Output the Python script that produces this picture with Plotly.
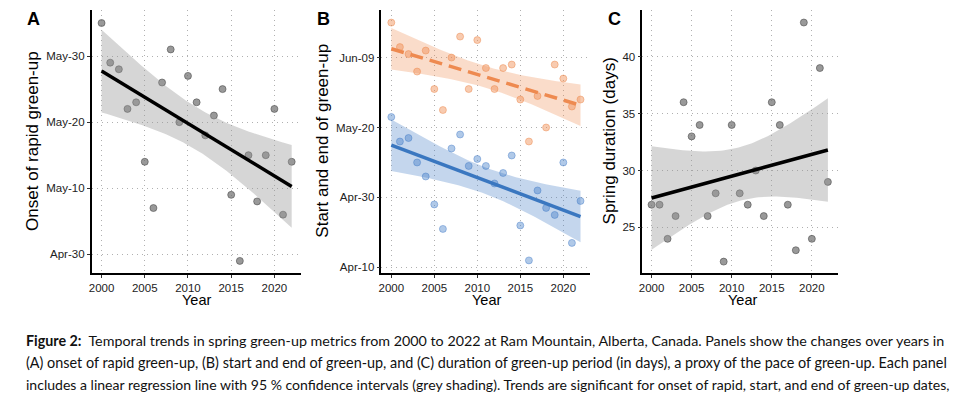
import numpy as np
import plotly.graph_objects as go

# ---------------- data ----------------
years = list(range(2000, 2023))
# day of year (non-leap): Apr-10=100, Apr-30=120, May-10=130, May-20=140, May-30=150, Jun-09=160
onset_rapid = [155, 149, 148, 142, 143, 134, 127, 146, 151, 140, 147, 143, 138, 141, 145, 129, 119, 135, 128, 135, 142, 126, 134]
start_greenup = [143, 136, 137, 130, 126, 118, 111, 134, 138, 129, 131, 129, 124, 127, 132, 112, 102, 122, 117, 115, 130, 107, 119]
end_greenup = [170, 163, 161, 156, 162, 151, 145, 160, 166, 151, 165, 157, 151, 157, 158, 148, 136, 149, 140, 158, 154, 146, 148]
duration_days = [27, 27, 24, 26, 36, 33, 34, 26, 28, 22, 34, 28, 27, 30, 26, 36, 34, 27, 23, 43, 24, 39, 29]

x_ticks = [2000, 2005, 2010, 2015, 2020]
a_tickvals = [120, 130, 140, 150]
a_ticktext = ["Apr-30", "May-10", "May-20", "May-30"]
b_tickvals = [100, 120, 140, 160]
b_ticktext = ["Apr-10", "Apr-30", "May-20", "Jun-09"]
c_tickvals = [25, 30, 35, 40]

caption_lines = [
    "<b>Figure 2:</b>  Temporal trends in spring green-up metrics from 2000 to 2022 at Ram Mountain, Alberta, Canada. Panels show the changes over years in",
    "(A) onset of rapid green-up, (B) start and end of green-up, and (C) duration of green-up period (in days), a proxy of the pace of green-up. Each panel",
    "includes a linear regression line with 95 % confidence intervals (grey shading). Trends are significant for onset of rapid, start, and end of green-up dates,",
]
caption_sizes = [14.3, 14.4, 14.05]

# ---------------- helpers ----------------
W, H = 958, 395


def px_x(p):
    return p / W


def px_y(p):
    return 1 - p / H


def lm_fit(x, y, npts=80, t=2.0796):
    x = np.asarray(x, float)
    y = np.asarray(y, float)
    n = len(x)
    b, a = np.polyfit(x, y, 1)
    xm = x.mean()
    sxx = ((x - xm) ** 2).sum()
    resid = y - (a + b * x)
    s = np.sqrt((resid ** 2).sum() / (n - 2))
    xs = np.linspace(x.min(), x.max(), npts)
    yh = a + b * xs
    se = s * np.sqrt(1 / n + (xs - xm) ** 2 / sxx)
    return xs, yh, yh - t * se, yh + t * se


fig = go.Figure()

FONT = "Liberation Sans, Arial, sans-serif"


def add_panel(idx, x, y, pt_fill, pt_line, band_fill, line_color, dash="solid"):
    xa = "x" if idx == 1 else f"x{idx}"
    ya = "y" if idx == 1 else f"y{idx}"
    xs, yh, lo, hi = lm_fit(x, y)
    fig.add_trace(go.Scatter(x=x, y=y, mode="markers", xaxis=xa, yaxis=ya,
                             marker=dict(size=7, color=pt_fill, line=dict(color=pt_line, width=0.8)),
                             showlegend=False, hoverinfo="skip"))
    fig.add_trace(go.Scatter(x=list(xs) + list(xs[::-1]), y=list(hi) + list(lo[::-1]),
                             fill="toself", fillcolor=band_fill, line=dict(width=0),
                             mode="lines", xaxis=xa, yaxis=ya, showlegend=False, hoverinfo="skip"))
    fig.add_trace(go.Scatter(x=xs, y=yh, mode="lines", xaxis=xa, yaxis=ya,
                             line=dict(color=line_color, width=3.5, dash=dash),
                             showlegend=False, hoverinfo="skip"))


grey_pt = "rgba(110,110,110,0.7)"
grey_ln = "rgba(70,70,70,0.7)"
grey_band = "rgba(153,153,153,0.4)"

add_panel(1, years, onset_rapid, grey_pt, grey_ln, grey_band, "black")
add_panel(2, years, end_greenup, "rgba(240,140,80,0.45)", "rgba(235,130,70,0.55)",
          "rgba(240,140,80,0.3)", "#EE8A50", dash="13px,7px")
add_panel(2, years, start_greenup, "rgba(80,135,205,0.45)", "rgba(70,125,200,0.55)",
          "rgba(60,120,195,0.3)", "#3A77C0")
add_panel(3, years, duration_days, grey_pt, grey_ln, grey_band, "black")

ydom = [px_y(273), px_y(10)]
xdoms = [[px_x(88), px_x(298)], [px_x(379), px_x(588)], [px_x(641), px_x(837)]]
xranges = [[1998.85, 2023.05], [1998.85, 2023.05], [1998.85, 2023.2]]
yranges = [[117.17, 156.97], [98.4, 173.6], [21.0, 44.1]]
ytv = [a_tickvals, b_tickvals, c_tickvals]
ytt = [a_ticktext, b_ticktext, [str(v) for v in c_tickvals]]

common = dict(showline=True, linecolor="black", linewidth=1.5, ticks="outside", ticklen=3,
              tickcolor="#333", tickwidth=1, showgrid=True, gridcolor="#b0b0b0", gridwidth=1.2,
              griddash="1px,4px", zeroline=False, tickfont=dict(family=FONT, size=11.5, color="#222"))

layout = {}
for i in range(3):
    sx = "xaxis" if i == 0 else f"xaxis{i+1}"
    sy = "yaxis" if i == 0 else f"yaxis{i+1}"
    ya = "y" if i == 0 else f"y{i+1}"
    xa = "x" if i == 0 else f"x{i+1}"
    layout[sx] = dict(domain=xdoms[i], range=xranges[i], anchor=ya, tickvals=x_ticks, **common)
    layout[sy] = dict(domain=ydom, range=yranges[i], anchor=xa, tickvals=ytv[i], ticktext=ytt[i], **common)

annotations = []
for letter, cx in zip(["A", "B", "C"], [30, 321, 613]):
    annotations.append(dict(text=f"<b>{letter}</b>", x=px_x(cx), y=px_y(19), xref="paper", yref="paper",
                            showarrow=False, xanchor="center", yanchor="middle",
                            font=dict(family=FONT, size=18, color="black")))
for cx in [193, 485, 742]:
    annotations.append(dict(text="Year", x=px_x(cx), y=px_y(300), xref="paper", yref="paper",
                            showarrow=False, xanchor="center", yanchor="middle",
                            font=dict(family=FONT, size=14.5, color="black")))
for txt, cx in zip(["Onset of rapid green-up", "Start and end of green-up", "Spring duration (days)"],
                   [28, 319, 608]):
    annotations.append(dict(text=txt, x=px_x(cx), y=px_y(141), xref="paper", yref="paper",
                            showarrow=False, xanchor="center", yanchor="middle", textangle=-90,
                            font=dict(family=FONT, size=17, color="black")))
for line, cy, fs in zip(caption_lines, [340, 362, 384], caption_sizes):
    annotations.append(dict(text=line, x=px_x(20), y=px_y(cy), xref="paper", yref="paper",
                            showarrow=False, xanchor="left", yanchor="middle",
                            font=dict(family="Lato, sans-serif", size=fs, color="#111")))

fig.update_layout(width=W, height=H, autosize=False, margin=dict(l=0, r=0, t=0, b=0),
                  paper_bgcolor="white", plot_bgcolor="white", showlegend=False,
                  annotations=annotations, **layout)

fig.write_html("out.html", config={"displayModeBar": False})

# remove default page margin so the figure sits at the window's top-left corner
with open("out.html", "r", encoding="utf-8") as f:
    html = f.read()
html = html.replace("<body>", '<body style="margin:0;padding:0;overflow:hidden">', 1)
with open("out.html", "w", encoding="utf-8") as f:
    f.write(html)
